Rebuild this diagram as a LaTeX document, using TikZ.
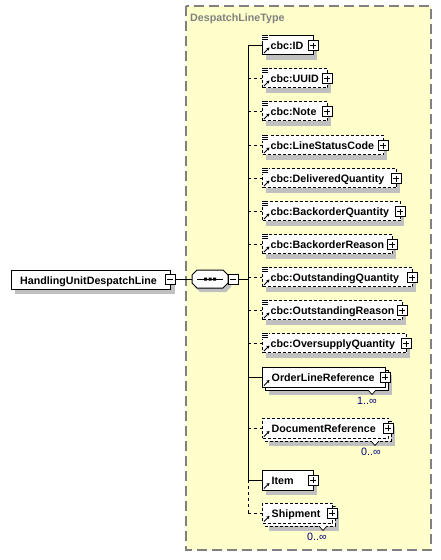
\documentclass[tikz,border=0pt]{standalone}
\usepackage{fontspec}
\setmainfont{Liberation Sans}
\usetikzlibrary{arrows.meta}
\definecolor{typebg}{RGB}{255,255,204}
\definecolor{typeline}{RGB}{128,128,128}
\definecolor{shadowgray}{RGB}{192,192,192}
\definecolor{occc}{RGB}{0,0,128}
\tikzset{
  conn/.style={line width=1pt, black},
  optconn/.style={conn, dash pattern=on 3pt off 3pt},
  elbox/.style={draw=black, fill=white, line width=1pt, inner sep=0pt, anchor=west},
  req/.style={},
  opt/.style={dash pattern=on 3pt off 2pt},
  eltext/.style={font=\bfseries\fontsize{10.7}{12}\selectfont, inner sep=0pt, anchor=base west},
  pmbox/.style={draw=black, fill=white, line width=0.7pt, minimum size=10pt, inner sep=0pt},
  plusbox/.style={pmbox, path picture={\draw[line width=0.8pt] ([xshift=-3pt]path picture bounding box.center) -- ([xshift=3pt]path picture bounding box.center) ([yshift=-3pt]path picture bounding box.center) -- ([yshift=3pt]path picture bounding box.center);}},
  minusbox/.style={pmbox, path picture={\draw[line width=0.8pt] ([xshift=-3pt]path picture bounding box.center) -- ([xshift=3pt]path picture bounding box.center);}},
  occ/.style={font=\fontsize{10.7}{12}\selectfont, text=occc, inner sep=0pt},
  refarrow/.style={line width=1pt, -{Stealth[length=3pt,width=3.5pt]}},
}
% simple-content element: name, y, right border, text, style
\newcommand\simpleel[5]{%
  \fill[shadowgray] (266,#2-4.5) rectangle (#3+4,#2+14.5);
  \node[elbox,#5,minimum width={#3pt-262pt},minimum height=19pt] (#1) at (262,#2) {};
  \fill[white] (261.3,#2-10.1) rectangle (268.5,#2-4);
  \draw[line width=0.7pt] (262,#2-9.5) -- (268,#2-9.5) (262,#2-7.5) -- (268,#2-7.5) (262,#2-5.5) -- (268,#2-5.5);
  \draw[refarrow] (264,#2+8) -- (269.5,#2+2.5);
  \node[eltext] (#1t) at (270.5,#2+4.5) {#4};
  \node[plusbox] (#1p) at (#3,#2+0.5) {};
}
% complex element, single
\newcommand\complexel[5]{%
  \fill[shadowgray] (266,#2-5) rectangle (#3+4,#2+15);
  \node[elbox,#5,minimum width={#3pt-262pt},minimum height=20pt] (#1) at (262,#2) {};
  \draw[refarrow] (264,#2+8.5) -- (269.5,#2+3);
  \node[eltext] (#1t) at (271.5,#2+4.5) {#4};
  \node[plusbox] (#1p) at (#3,#2) {};
}
% complex element, repeated: name, y, right border, text, style, notch x, label x, label
\newcommand\multiel[8]{%
  \fill[shadowgray] (269,#2-2) rectangle (#3+7,#2+18);
  \draw[#5, line width=1pt, fill=white] (265,#2-7) rectangle (#3+3,#2+13);
  \node[elbox,#5,minimum width={#3pt-262pt},minimum height=20pt] (#1) at (262,#2) {};
  \draw[line width=0.7pt, fill=white] (#6-4,#2+13) -- (#6,#2+17.5) -- (#6+4,#2+13);
  \draw[refarrow] (264,#2+8.5) -- (269.5,#2+3);
  \node[eltext] (#1t) at (271.5,#2+4.5) {#4};
  \node[plusbox] (#1p) at (#3,#2) {};
  \node[occ] (#1o) at (#7,#2+23.5) {#8};
}
\begin{document}
\begin{tikzpicture}[x=1pt,y=-1pt]
\useasboundingbox (0,0) rectangle (441,560);
% complex type frame
\draw[typeline, line width=1.2pt, dash pattern=on 10pt off 5pt, fill=typebg] (186,6) rectangle (431,550);
\node[eltext, text=typeline] (title) at (190,21) {DespatchLineType};
% root element
\fill[shadowgray] (15,274) rectangle (175,294);
\node[elbox, minimum width=159pt, minimum height=19pt] (hudl) at (11,279.5) {};
\node[eltext] (hudlt) at (20,284) {HandlingUnitDespatchLine};
\node[minusbox] (hudlm) at (170,279) {};
% sequence compositor
\node[minimum width=36pt, minimum height=18pt, inner sep=0pt] (seq) at (210,279) {};
\fill[shadowgray, shift={(3,4)}] (197,270) -- (223,270) -- (228,275) -- (228,283) -- (223,288) -- (197,288) -- (192,283) -- (192,275) -- cycle;
\draw[line width=1pt, fill=white] (197,270) -- (223,270) -- (228,275) -- (228,283) -- (223,288) -- (197,288) -- (192,283) -- (192,275) -- cycle;
\draw[line width=1pt] (197,279) -- (223,279);
\fill (204,277.5) rectangle (207,280.5) (208.5,277.5) rectangle (211.5,280.5) (213,277.5) rectangle (216,280.5);
\node[minusbox] (seqm) at (233,279) {};
% children
\simpleel{id}{45}{313}{cbc:ID}{req}
\simpleel{uuid}{78}{327}{cbc:UUID}{opt}
\simpleel{note}{111}{327}{cbc:Note}{opt}
\simpleel{lsc}{145}{383}{cbc:LineStatusCode}{opt}
\simpleel{dq}{178}{396}{cbc:DeliveredQuantity}{opt}
\simpleel{bq}{211}{400}{cbc:BackorderQuantity}{opt}
\simpleel{br}{244}{392}{cbc:BackorderReason}{opt}
\simpleel{oq}{277}{412}{cbc:OutstandingQuantity}{opt}
\simpleel{or}{310}{402}{cbc:OutstandingReason}{opt}
\simpleel{osq}{343}{406}{cbc:OversupplyQuantity}{opt}
\multiel{olr}{377}{385}{OrderLineReference}{req}{372}{367}{1..∞}
\multiel{dr}{428}{388}{DocumentReference}{opt}{375}{371}{0..∞}
\complexel{item}{480}{313}{Item}{req}
\multiel{ship}{513}{332}{Shipment}{opt}{323}{317}{0..∞}
% connectors
\coordinate (sp) at (248,0);
\draw[conn] (hudlm.east) -- (seq.west);
\draw[conn] (seqm.east) -- (sp |- seqm.east);
\draw[conn] (sp |- id.west) -- (sp |- item.west);
\draw[optconn] (sp |- item.west) -- (sp |- ship.west);
\foreach \n in {id,olr,item} \draw[conn] (sp |- \n.west) -- (\n.west);
\foreach \n in {uuid,note,lsc,dq,bq,br,oq,or,osq,dr,ship} \draw[optconn] (sp |- \n.west) -- (\n.west);
\end{tikzpicture}
\end{document}
